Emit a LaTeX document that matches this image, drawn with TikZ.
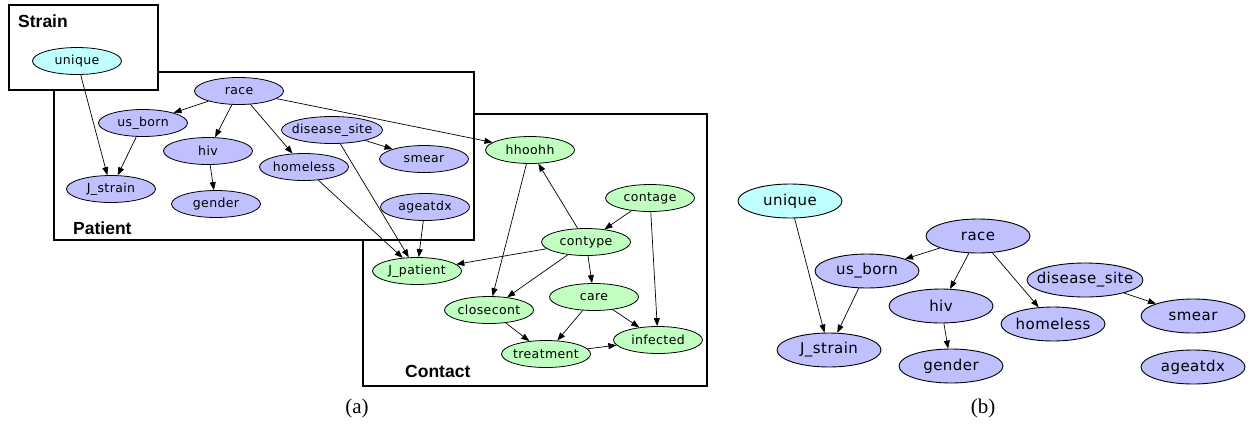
\documentclass[tikz,border=0pt]{standalone}
\usepackage{fontspec}
\setmainfont{Liberation Serif}
\newfontfamily\nodefont[LetterSpace=3]{DejaVu Sans}
\newfontfamily\boxfont{Liberation Sans}
\newfontfamily\capfont{Liberation Serif}
\usetikzlibrary{shapes.geometric,arrows.meta}
\definecolor{lav}{RGB}{192,192,255}
\definecolor{cya}{RGB}{192,255,255}
\definecolor{grn}{RGB}{192,255,192}
\newcommand{\zw}[1]{\makebox[0pt]{#1}}
\tikzset{
  nd/.style={ellipse,draw=black,line width=0.8pt,inner sep=0pt,minimum width=89pt,minimum height=27pt,font=\nodefont\fontsize{12.5}{13}\selectfont},
  ndb/.style={ellipse,draw=black,line width=0.9pt,inner sep=0pt,minimum width=104pt,minimum height=34pt,font=\nodefont\fontsize{15}{16}\selectfont},
  pat/.style={fill=lav},
  str/.style={fill=cya},
  con/.style={fill=grn},
  plate/.style={draw=black,line width=2pt,fill=white},
  platelabel/.style={font=\boxfont\bfseries\fontsize{17.5}{18}\selectfont,anchor=base west,inner sep=0pt},
  edge/.style={-{Triangle[length=8pt,width=6pt]},line width=0.7pt},
  captxt/.style={font=\capfont\fontsize{21}{22}\selectfont}
}
\begin{document}
\begin{tikzpicture}[x=1pt,y=-1pt]
\useasboundingbox (0,0) rectangle (1252,426);
% plates
\draw[plate] (363,114) rectangle (707,386);
\draw[plate] (54,72) rectangle (474,240);
\draw[plate] (9,5) rectangle (158,90);
\node[platelabel] (lstrain) at (18,27) {Strain};
\node[platelabel] (lpatient) at (73,234) {Patient};
\node[platelabel] (lcontact) at (405,377) {Contact};
% panel (a) nodes
\node[nd,str] (unique) at (77,61) {\zw{unique}};
\node[nd,pat] (race) at (239,91) {\zw{race}};
\node[nd,pat] (usborn) at (143,123) {\zw{us\_born}};
\node[nd,pat] (hiv) at (208,151) {\zw{hiv}};
\node[nd,pat,minimum width=101pt] (dsite) at (332,130) {\zw{disease\_site}};
\node[nd,pat] (homeless) at (304,167) {\zw{homeless}};
\node[nd,pat] (smear) at (424,159) {\zw{smear}};
\node[nd,pat] (jstrain) at (111,189) {\zw{J\_strain}};
\node[nd,pat] (gender) at (216,204) {\zw{gender}};
\node[nd,pat] (ageatdx) at (425,207) {\zw{ageatdx}};
\node[nd,con] (hhoohh) at (530,150) {\zw{hhoohh}};
\node[nd,con] (contage) at (650,198) {\zw{contage}};
\node[nd,con] (contype) at (586,242) {\zw{contype}};
\node[nd,con] (jpatient) at (417,271) {\zw{J\_patient}};
\node[nd,con] (care) at (594,297) {\zw{care}};
\node[nd,con] (closecont) at (489,310) {\zw{closecont}};
\node[nd,con] (infected) at (658,340) {\zw{infected}};
\node[nd,con] (treatment) at (546,354) {\zw{treatment}};
% panel (a) edges
\draw[edge] (unique) -- (jstrain);
\draw[edge] (race) -- (usborn);
\draw[edge] (race) -- (hiv);
\draw[edge] (race) -- (homeless);
\draw[edge] (race) -- (hhoohh);
\draw[edge] (usborn) -- (jstrain);
\draw[edge] (hiv) -- (gender);
\draw[edge] (dsite) -- (smear);
\draw[edge] (dsite) -- (jpatient);
\draw[edge] (homeless) -- (jpatient);
\draw[edge] (ageatdx) -- (jpatient);
\draw[edge] (hhoohh) -- (closecont);
\draw[edge] (contype) -- (hhoohh);
\draw[edge] (contage) -- (contype);
\draw[edge] (contage) -- (infected);
\draw[edge] (contype) -- (jpatient);
\draw[edge] (contype) -- (closecont);
\draw[edge] (contype) -- (care);
\draw[edge] (care) -- (treatment);
\draw[edge] (care) -- (infected);
\draw[edge] (closecont) -- (treatment);
\draw[edge] (treatment) -- (infected);
% panel (b)
\node[ndb,str] (bunique) at (790,201) {\zw{unique}};
\node[ndb,pat] (brace) at (978,236) {\zw{race}};
\node[ndb,pat] (busborn) at (867,271) {\zw{us\_born}};
\node[ndb,pat,minimum width=116pt] (bdsite) at (1085,280) {\zw{disease\_site}};
\node[ndb,pat] (bhiv) at (941,306) {\zw{hiv}};
\node[ndb,pat] (bhomeless) at (1053,324) {\zw{homeless}};
\node[ndb,pat] (bsmear) at (1193,316) {\zw{smear}};
\node[ndb,pat] (bjstrain) at (829,350) {\zw{J\_strain}};
\node[ndb,pat] (bgender) at (951,366) {\zw{gender}};
\node[ndb,pat] (bageatdx) at (1193,367) {\zw{ageatdx}};
\draw[edge] (bunique) -- (bjstrain);
\draw[edge] (brace) -- (busborn);
\draw[edge] (brace) -- (bhiv);
\draw[edge] (brace) -- (bhomeless);
\draw[edge] (busborn) -- (bjstrain);
\draw[edge] (bhiv) -- (bgender);
\draw[edge] (bdsite) -- (bsmear);
% captions
\node[captxt] (capa) at (357,408) {(a)};
\node[captxt] (capb) at (983,408) {(b)};
\end{tikzpicture}
\end{document}
